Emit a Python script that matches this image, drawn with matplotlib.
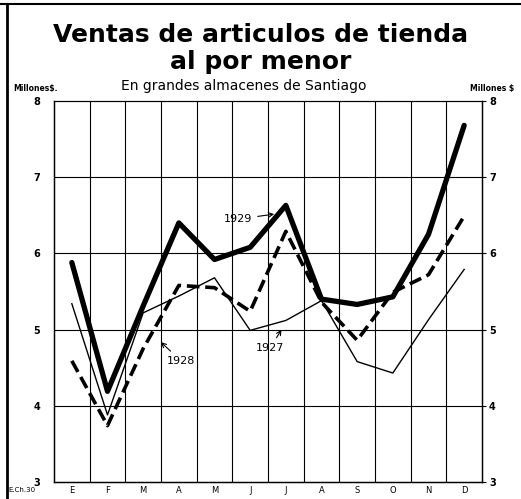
import numpy as np
import matplotlib
matplotlib.use("Agg")
import matplotlib.pyplot as plt

# Ventas mensuales, millones de $
meses = ['E', 'F', 'M', 'A', 'M', 'J', 'J', 'A', 'S', 'O', 'N', 'D']
ventas_1929 = [5.88, 4.19, 5.31, 6.40, 5.92, 6.08, 6.63, 5.40, 5.33, 5.43, 6.25, 7.68]
ventas_1928 = [4.59, 3.74, 4.75, 5.58, 5.55, 5.24, 6.29, 5.36, 4.86, 5.49, 5.72, 6.49]
ventas_1927 = [5.34, 3.88, 5.22, 5.44, 5.68, 4.99, 5.12, 5.38, 4.58, 4.43, 5.13, 5.79]
y_ticks = [3, 4, 5, 6, 7, 8]

x = np.arange(len(meses))

fig = plt.figure(figsize=(5.21, 4.99), dpi=100)
ax = fig.add_axes([54 / 521, 1 - 482 / 499, 428 / 521, 381 / 499])

ax.plot(x, ventas_1927, color='black', lw=1.0)
ax.plot(x, ventas_1928, color='black', lw=2.6, dashes=(3.5, 1.6))
ax.plot(x, ventas_1929, color='black', lw=3.8, solid_capstyle='round')

ax.set_xlim(-0.5, 11.5)
ax.set_ylim(3, 8)

# reticula
for k in range(1, 12):
    ax.axvline(k - 0.5, color='black', lw=0.8, zorder=0)
for v in [4, 5, 6, 7]:
    ax.axhline(v, color='black', lw=0.8, zorder=0)

ax.set_xticks(x)
ax.set_xticklabels(meses, fontsize=6)
ax.set_yticks(y_ticks)
ax.set_yticklabels([str(v) for v in y_ticks], fontsize=7, fontweight='bold')
ax.tick_params(axis='x', length=0, pad=3)
ax.tick_params(axis='y', length=0, pad=10)
for s in ax.spines.values():
    s.set_linewidth(1.0)
ax.spines['top'].set_linewidth(0.8)

# escala derecha
ax2 = ax.twinx()
ax2.set_ylim(3, 8)
ax2.set_yticks(y_ticks)
ax2.set_yticklabels([str(v) for v in y_ticks], fontsize=7, fontweight='bold')
ax2.tick_params(axis='y', length=3, width=0.8, pad=2)

# etiquetas de las curvas
arr = dict(arrowstyle='->', color='black', lw=0.8)
ax.annotate('1929', xy=(5.75, 6.52), xytext=(4.66, 6.45), fontsize=8,
            ha='center', va='center', arrowprops=arr)
ax.annotate('1928', xy=(2.44, 4.86), xytext=(3.06, 4.59), fontsize=8,
            ha='center', va='center', arrowprops=arr)
ax.annotate('1927', xy=(5.92, 5.03), xytext=(5.56, 4.76), fontsize=8,
            ha='center', va='center', arrowprops=arr)

fig.text(0.5, 1 - 35 / 499, 'Ventas de articulos de tienda', ha='center',
         va='center', fontsize=18, fontweight='bold')
fig.text(0.5, 1 - 62 / 499, 'al por menor', ha='center', va='center',
         fontsize=18, fontweight='bold')
fig.text(0.468, 1 - 86 / 499, 'En grandes almacenes de Santiago', ha='center',
         va='center', fontsize=10)
fig.text(35 / 521, 1 - 88 / 499, 'Millones$.', ha='center', va='center',
         fontsize=5.5, fontweight='bold')
fig.text(492 / 521, 1 - 88 / 499, 'Millones $', ha='center', va='center',
         fontsize=5.5, fontweight='bold')
fig.text(22 / 521, 1 - 490 / 499, 'E.Ch.30', ha='center', va='center',
         fontsize=5)

# marco
fig.add_artist(plt.Line2D([0, 1], [1 - 4 / 499, 1 - 4 / 499], color='black', lw=1.5))
fig.add_artist(plt.Line2D([7 / 521, 7 / 521], [0, 1 - 4 / 499], color='black', lw=2.0))

fig.savefig('out.png', dpi=100)
